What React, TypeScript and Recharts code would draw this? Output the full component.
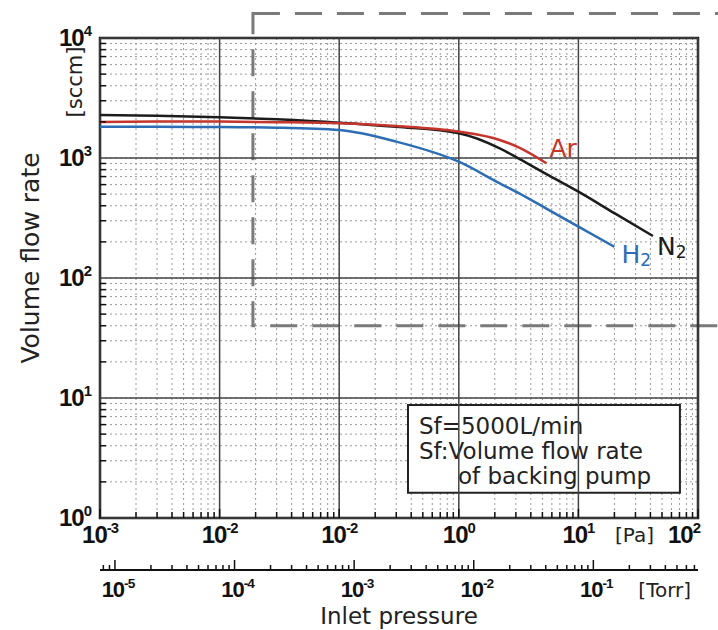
import {
  LineChart,
  Line,
  XAxis,
  YAxis,
  CartesianGrid,
  ReferenceLine,
  ReferenceArea,
} from "recharts";

// inlet pressure [Pa] and volume flow rate [sccm]
const pressurePa = [0.001, 0.003, 0.01, 0.03, 0.1, 0.3, 1, 2.2, 3.2, 5.4, 10, 20, 42];
const n2Flow = [2280, 2250, 2190, 2100, 1970, 1820, 1610, 1205, 985, 735, 524, 347, 224];
const arFlow = [2000, 2010, 2010, 1990, 1950, 1850, 1660, 1413, 1219, 903, null, null, null];
const h2Flow = [1818, 1818, 1812, 1790, 1710, 1370, 931, 615, 508, 379, 268, 182, null];

// axis decades and their exponent labels
const paMajor = [0.001, 0.01, 0.1, 1, 10, 100];
const paLabels = ["-3", "-2", "-2", "0", "1", "2"];
const flowMajor = [1, 10, 100, 1000, 10000];
const flowLabels = ["0", "1", "2", "3", "4"];
const torrMajor = [1e-6, 1e-5, 1e-4, 1e-3, 1e-2, 1e-1];
const torrLabels = ["", "-5", "-4", "-3", "-2", "-1"];

const PA_PER_TORR = 133.322;
const multiples = [1, 2, 3, 4, 5, 6, 7, 8, 9];

const rows = pressurePa.map((p, i) => ({
  p,
  torr: p / PA_PER_TORR,
  n2: n2Flow[i],
  ar: arFlow[i],
  h2: h2Flow[i],
}));

const withMinors = (decades: number[], lo: number, hi: number) =>
  decades
    .flatMap((d) => multiples.map((m) => +(d * m).toPrecision(6)))
    .filter((v) => v >= lo * 0.9999 && v <= hi * 1.0001);

const paTicks = withMinors(paMajor, 0.001, 100);
const flowTicks = withMinors(flowMajor, 1, 10000);
const torrDomain = [0.001 / PA_PER_TORR, 100 / PA_PER_TORR];
const torrTicks = withMinors(torrMajor, torrDomain[0], torrDomain[1]);

const majorIndex = (list: number[], v: number) =>
  list.findIndex((m) => Math.abs(m - v) / m < 1e-6);

const NUM_FONT = "'Liberation Sans', Arial, sans-serif";
const TEXT_FONT = "'DejaVu Sans', sans-serif";

const Pow = ({ x, y, exp, anchor = "middle", size = 24 }: any) => (
  <text
    x={x}
    y={y}
    textAnchor={anchor}
    fontFamily={NUM_FONT}
    fontWeight="bold"
    fontSize={size}
    letterSpacing={-1}
    fill="#111"
  >
    10
    <tspan fontSize={size * 0.62} dy={-size * 0.42}>
      {exp}
    </tspan>
  </text>
);

const PaTick = ({ x, y, payload }: any) => {
  const i = majorIndex(paMajor, payload.value);
  const isMajor = i >= 0;
  const isLast = i === paMajor.length - 1;
  return (
    <g>
      <line x1={x} x2={x} y1={y} y2={y - (isMajor ? 9 : 6)} stroke="#111" strokeWidth={1.5} />
      {isMajor && <Pow x={isLast ? x - 14 : x} y={y + 25} exp={paLabels[i]} />}
      {isLast && (
        <text x={x - 44} y={y + 24} textAnchor="end" fontFamily={TEXT_FONT} fontSize={20} fill="#222">
          [Pa]
        </text>
      )}
    </g>
  );
};

const TorrTick = ({ x, y, payload }: any) => {
  const i = majorIndex(torrMajor, payload.value);
  const isMajor = i >= 0;
  return (
    <g>
      <line x1={x} x2={x} y1={y} y2={y - (isMajor ? 10 : 5)} stroke="#111" strokeWidth={1.5} />
      {isMajor && torrLabels[i] && <Pow x={x + 3} y={y + 27} exp={torrLabels[i]} size={22} />}
      {i === torrMajor.length - 1 && (
        <text x={x + 45} y={y + 27} fontFamily={TEXT_FONT} fontSize={20} fill="#222">
          [Torr]
        </text>
      )}
    </g>
  );
};

const FlowTick = ({ x, y, payload }: any) => {
  const i = majorIndex(flowMajor, payload.value);
  return (
    <g>
      {i < 0 && <line x1={x} x2={x + 6} y1={y} y2={y} stroke="#111" strokeWidth={1.5} />}
      {i >= 0 && <Pow x={x - 9} y={y + 8} exp={flowLabels[i]} anchor="end" />}
    </g>
  );
};

const YTitle = ({ viewBox }: any) => {
  const { x, y } = viewBox;
  return (
    <g fontFamily={TEXT_FONT} fill="#222">
      <text x={x + 30} y={y + 220} transform={`rotate(-90 ${x + 30} ${y + 220})`} textAnchor="middle" dominantBaseline="central" fontSize={25}>
        Volume flow rate
      </text>
      <text x={x + 75} y={y + 44} transform={`rotate(-90 ${x + 75} ${y + 44})`} textAnchor="middle" dominantBaseline="central" fontSize={21}>
        [sccm]
      </text>
    </g>
  );
};

const XTitle = ({ viewBox }: any) => {
  const { x, y, width } = viewBox;
  return (
    <text x={x + width / 2} y={y + 54} textAnchor="middle" fontFamily={TEXT_FONT} fontSize={23} fill="#222">
      Inlet pressure
    </text>
  );
};

const NoteBox = ({ viewBox }: any) => {
  const { x, y } = viewBox;
  return (
    <g fontFamily={TEXT_FONT} fontSize={23} fill="#222">
      <text x={x + 11} y={y + 29}>Sf=5000L/min</text>
      <text x={x + 11} y={y + 54}>Sf:Volume flow rate</text>
      <text x={x + 50} y={y + 79}>of backing pump</text>
    </g>
  );
};

const lastIndex = (arr: (number | null)[]) => {
  let k = -1;
  arr.forEach((v, i) => {
    if (v != null) k = i;
  });
  return k;
};

const endLabel =
  (name: string, sub: string, color: string, dx: number, dy: number, last: number) =>
  (props: any) => {
    if (props.index !== last) return <g />;
    return (
      <text x={props.x + dx} y={props.y + dy} fill={color} fontFamily={TEXT_FONT} fontSize={25}>
        {name}
        {sub && (
          <tspan fontSize={17} dy={3}>
            {sub}
          </tspan>
        )}
      </text>
    );
  };

const series = [
  { key: "n2", color: "#1c1c1c", label: endLabel("N", "2", "#1c1c1c", 4, 19, lastIndex(n2Flow)) },
  { key: "ar", color: "#c4352c", label: endLabel("Ar", "", "#c4352c", 3, -6, lastIndex(arFlow)) },
  { key: "h2", color: "#2c6db4", label: endLabel("H", "2", "#2c6db4", 7, 16, lastIndex(h2Flow)) },
];

export default function App() {
  return (
    <div style={{ position: "absolute", left: 0, top: 0, width: 718, height: 630, background: "#fff" }}>
      <LineChart width={718} height={630} data={rows} margin={{ top: 38, right: 20, bottom: 0, left: 0 }}>
        <CartesianGrid stroke="#9a9a9a" strokeDasharray="2 3" strokeWidth={1} />
        <XAxis
          dataKey="p"
          type="number"
          scale="log"
          domain={[0.001, 100]}
          allowDataOverflow
          ticks={paTicks}
          interval={0}
          tickSize={0}
          tickMargin={0}
          axisLine={false}
          tickLine={false}
          tick={<PaTick />}
          height={52}
        />
        <XAxis
          xAxisId="torr"
          dataKey="torr"
          type="number"
          scale="log"
          domain={torrDomain}
          allowDataOverflow
          ticks={torrTicks}
          interval={0}
          tickSize={0}
          tickMargin={0}
          axisLine={{ stroke: "#111", strokeWidth: 2 }}
          tickLine={false}
          tick={<TorrTick />}
          height={60}
          label={<XTitle />}
        />
        <YAxis
          type="number"
          scale="log"
          domain={[1, 10000]}
          allowDataOverflow
          ticks={flowTicks}
          interval={0}
          tickSize={0}
          tickMargin={0}
          axisLine={false}
          tickLine={false}
          tick={<FlowTick />}
          width={100}
          label={<YTitle />}
        />
        {paMajor.map((v) => (
          <ReferenceLine key={`x${v}`} x={v} stroke="#444" strokeWidth={1.5} />
        ))}
        {flowMajor.map((v) => (
          <ReferenceLine key={`y${v}`} y={v} stroke="#444" strokeWidth={1.5} />
        ))}
        <ReferenceArea
          x1={0.019}
          x2={400}
          y1={40}
          y2={16000}
          ifOverflow="visible"
          fill="none"
          stroke="#7a7a7a"
          strokeWidth={3}
          strokeDasharray="27 15"
        />
        <ReferenceArea
          x1={0.376}
          x2={70.6}
          y1={1.62}
          y2={8.74}
          ifOverflow="visible"
          fill="#fff"
          fillOpacity={1}
          stroke="#222"
          strokeWidth={2}
          label={<NoteBox />}
        />
        <ReferenceArea
          x1={0.001}
          x2={100}
          y1={1}
          y2={10000}
          ifOverflow="visible"
          fill="none"
          stroke="#111"
          strokeWidth={2.5}
        />
        {/* invisible series so the Torr axis is bound to the data */}
        <Line
          xAxisId="torr"
          dataKey="n2"
          stroke="none"
          dot={false}
          activeDot={false}
          legendType="none"
          isAnimationActive={false}
        />
        {series.map((s) => (
          <Line
            key={s.key}
            dataKey={s.key}
            type="monotone"
            stroke={s.color}
            strokeWidth={2.5}
            dot={false}
            isAnimationActive={false}
            label={s.label}
          />
        ))}
      </LineChart>
    </div>
  );
}
